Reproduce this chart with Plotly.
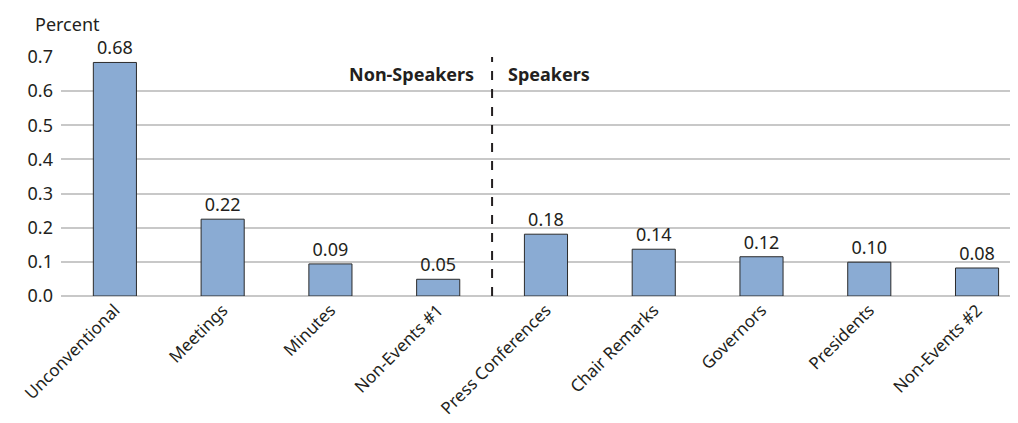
import plotly.graph_objects as go

categories = ["Unconventional", "Meetings", "Minutes", "Non-Events #1",
              "Press Conferences", "Chair Remarks", "Governors", "Presidents", "Non-Events #2"]
values = [0.684, 0.225, 0.094, 0.049, 0.181, 0.137, 0.115, 0.099, 0.082]
value_labels = ["0.68", "0.22", "0.09", "0.05", "0.18", "0.14", "0.12", "0.10", "0.08"]
y_ticks = [0.0, 0.1, 0.2, 0.3, 0.4, 0.5, 0.6, 0.7]
y_tick_labels = ["0.0", "0.1", "0.2", "0.3", "0.4", "0.5", "0.6", "0.7"]
group_labels = ["Non-Speakers", "Speakers"]

FONT = "Noto Sans"
TXT = "#231f20"

fig = go.Figure()
fig.add_trace(go.Bar(
    x=list(range(len(categories))), y=values,
    width=0.4,
    marker=dict(color="#8aabd3", line=dict(color="#2b2b2b", width=1)),
    text=value_labels, textposition="outside",
    textfont=dict(family=FONT, size=18, color=TXT),
    cliponaxis=False,
))

# divider between groups
fig.add_shape(type="line", xref="x", yref="y", x0=3.5, x1=3.5, y0=0, y1=0.71,
              line=dict(color="#231f20", width=2, dash="dash"))
fig.add_annotation(xref="x", yref="y", x=3.5, y=0.65, text="<b>%s</b>" % group_labels[0],
                   showarrow=False, xanchor="right", xshift=-16,
                   font=dict(family=FONT, size=18, color=TXT))
fig.add_annotation(xref="x", yref="y", x=3.5, y=0.65, text="<b>%s</b>" % group_labels[1],
                   showarrow=False, xanchor="left", xshift=14,
                   font=dict(family=FONT, size=18, color=TXT))
fig.add_annotation(xref="paper", yref="paper", x=-0.029, y=1.0, yshift=33,
                   text="Percent", showarrow=False, xanchor="left", yanchor="middle",
                   font=dict(family=FONT, size=18, color=TXT))

fig.update_layout(
    width=1010, height=415,
    margin=dict(l=53, r=0, t=49, b=127),
    plot_bgcolor="white", paper_bgcolor="white",
    showlegend=False, bargap=0.6,
    xaxis=dict(
        range=[-0.5, 8.38], automargin=False,
        tickmode="array", tickvals=list(range(len(categories))), ticktext=categories,
        tickangle=-45, showgrid=False, zeroline=False, showline=False, ticks="",
        tickfont=dict(family=FONT, size=17, color=TXT),
    ),
    yaxis=dict(
        range=[0, 0.7], automargin=False,
        tickmode="array", tickvals=y_ticks, ticktext=y_tick_labels,
        showgrid=True, gridcolor="#c8c8c8", gridwidth=1.5,
        zeroline=True, zerolinecolor="#c8c8c8", zerolinewidth=1.5,
        showline=False, ticks="", ticklabelstandoff=7,
        tickfont=dict(family=FONT, size=18, color=TXT),
    ),
)

fig.write_html("out.html")
